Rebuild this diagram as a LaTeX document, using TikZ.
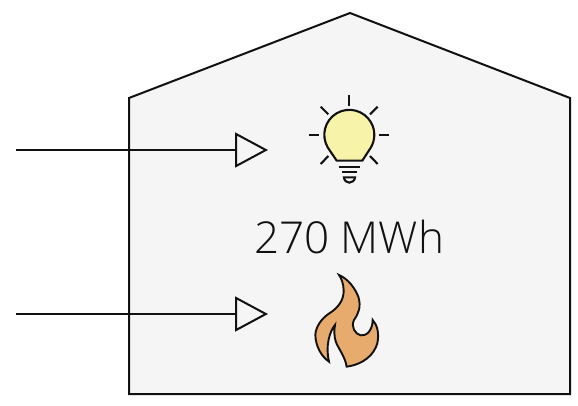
\documentclass[tikz,border=0pt]{standalone}
\usepackage{fontspec}
\setmainfont{Open Sans}[UprightFont=* Light]
\usetikzlibrary{arrows.meta}
\definecolor{housefill}{HTML}{F5F5F5}
\definecolor{bulbfill}{HTML}{F7F3A8}
\definecolor{flamefill}{HTML}{E8AB6E}
\definecolor{ink}{HTML}{111111}
\tikzset{
  outline/.style={draw=ink,line width=2pt,line join=miter},
  feed/.style={draw=ink,line width=2pt,-{Triangle[open,length=33pt,width=35pt,line width=2pt]}},
  iconline/.style={draw=ink,line width=2.1pt},
  label/.style={font=\fontsize{44}{50}\selectfont,text=ink,inner sep=0pt}
}
\begin{document}
\begin{tikzpicture}[x=1pt,y=-1pt]
\useasboundingbox (0,0) rectangle (578,405);
\fill[white] (0,0) rectangle (578,405);
\path[outline,fill=housefill] (129,98) -- (350,13) -- (570,98) -- (570,394) -- (129,394) -- cycle;
\coordinate (src1) at (16,150);
\coordinate (dst1) at (268,150);
\coordinate (src2) at (16,314);
\coordinate (dst2) at (268,314);
\draw[feed] (src1) -- (dst1);
\draw[feed] (src2) -- (dst2);
\node[label] (value) at (349,237) {270 MWh};
\begin{scope}[shift={(300,90)},x=0.3333pt,y=-0.3333pt]
  \path[iconline,fill=bulbfill,line join=round] (110,212) -- (83,172) arc[start angle=150,end angle=390,radius=75] -- (187,212) -- cycle;
  \draw[iconline] (147,15) -- (147,47);
  \draw[iconline] (237,135) -- (268,135);
  \draw[iconline] (27,135) -- (58,135);
  \draw[iconline] (62,50) -- (85,73);
  \draw[iconline] (233,50) -- (210,73);
  \draw[iconline] (62,222) -- (85,198);
  \draw[iconline] (233,222) -- (210,198);
  \draw[iconline] (118,230) -- (180,230);
  \draw[iconline] (125,245) -- (172,245);
  \draw[iconline] (132,262) -- (165,262) .. controls (165,272) and (155,278) .. (148,278) .. controls (141,278) and (132,272) .. (132,262) -- cycle;
\end{scope}
\begin{scope}[shift={(300,265)},x=0.3333pt,y=-0.3333pt]
  \path[outline,fill=flamefill,line width=1.9pt,line join=miter]
    (117,30) .. controls (145,42) and (165,70) .. (175,95)
    .. controls (184,125) and (176,145) .. (162,165)
    .. controls (152,185) and (165,207) .. (182,211)
    .. controls (200,214) and (218,195) .. (218,165)
    .. controls (232,180) and (238,205) .. (232,235)
    .. controls (222,270) and (190,298) .. (140,305)
    .. controls (135,275) and (118,255) .. (108,232)
    .. controls (102,215) and (102,195) .. (105,180)
    .. controls (88,200) and (76,245) .. (87,290)
    .. controls (65,275) and (47,245) .. (46,210)
    .. controls (47,185) and (65,160) .. (88,145)
    .. controls (115,128) and (132,105) .. (131,75)
    .. controls (130,55) and (125,42) .. (117,30) -- cycle;
\end{scope}
\end{tikzpicture}
\end{document}
